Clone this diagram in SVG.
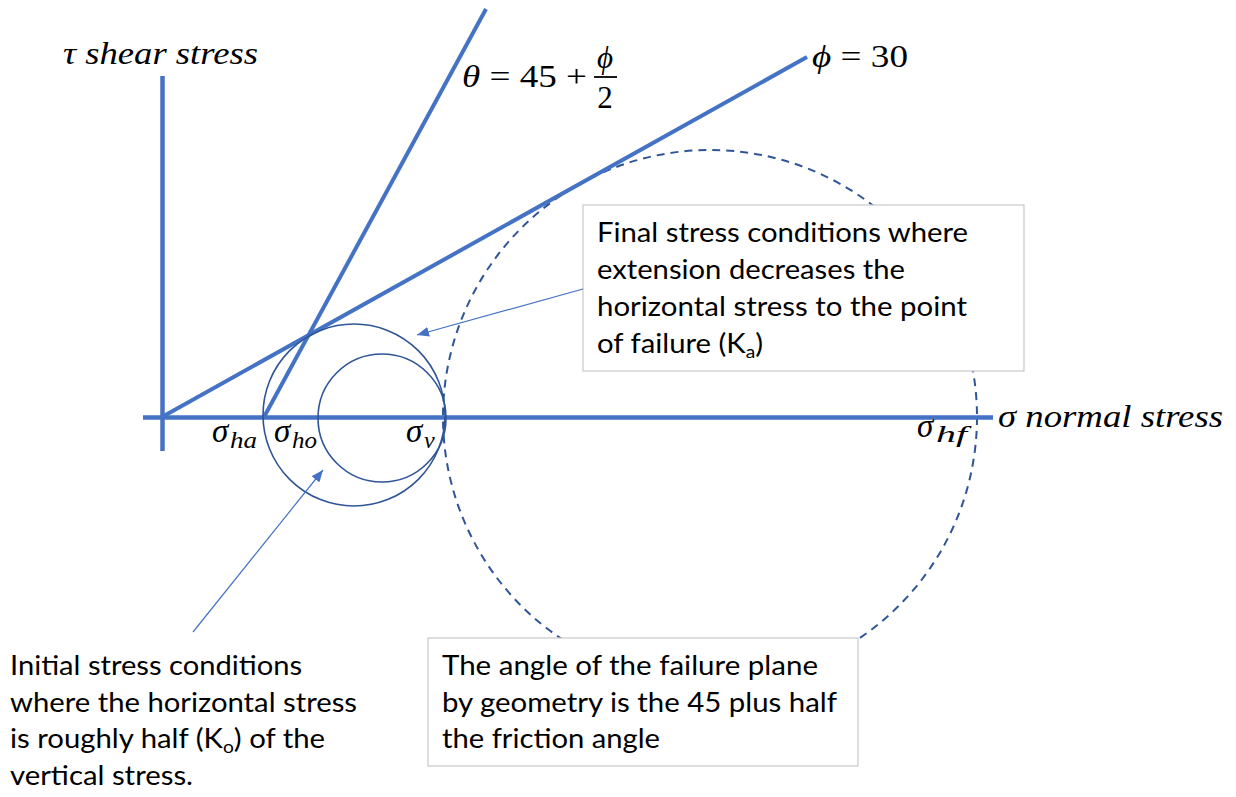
<svg xmlns="http://www.w3.org/2000/svg" width="1236" height="797" viewBox="0 0 1236 797">
<style>
.axis{stroke:#4472C4;stroke-width:4.5;fill:none;stroke-linecap:butt}
.env{stroke:#4472C4;stroke-width:4;fill:none}
.circ{stroke:#2F5597;stroke-width:1.6;fill:none}
.dash{stroke:#2F5597;stroke-width:2;fill:none;stroke-dasharray:8 6}
.box{fill:#ffffff;stroke:#c9c9c9;stroke-width:1.2}
.note{font-family:Lato,"Liberation Sans",sans-serif;font-size:26px;fill:#000}
.math{font-family:"Liberation Serif","DejaVu Serif",serif;font-style:italic;fill:#000}
.up{font-style:normal}
.conn{stroke:#4472C4;stroke-width:1.2;fill:none}
</style>
<defs>
<marker id="ah" viewBox="0 0 12 10" refX="12" refY="5" markerWidth="12" markerHeight="10" markerUnits="userSpaceOnUse" orient="auto">
<path d="M0,0 L12,5 L0,10 z" fill="#4472C4"/>
</marker>
</defs>
<rect width="1236" height="797" fill="#ffffff"/>

<g id="failure-circle">
<circle class="dash" cx="710" cy="417" r="267"/>
</g>

<g id="axes">
<line class="axis" x1="143" y1="417.5" x2="993" y2="417.5"/>
<line class="axis" x1="162.5" y1="76" x2="162.5" y2="451"/>
</g>

<g id="envelope">
<line class="env" x1="162" y1="417" x2="807" y2="57"/>
<line class="env" x1="264" y1="417" x2="486" y2="9"/>
</g>

<g id="final-circle">
<circle class="circ" cx="354" cy="415" r="91"/>
</g>
<g id="initial-circle">
<circle class="circ" cx="382" cy="418" r="64"/>
</g>

<g id="labels">
<text class="math" x="63" y="64" font-size="31" textLength="195" lengthAdjust="spacingAndGlyphs">τ shear stress</text>
<text class="math" x="462" y="87" font-size="32" textLength="125" lengthAdjust="spacingAndGlyphs">θ <tspan class="up">= 45 +</tspan></text>
<text class="math" x="605" y="68" font-size="31" text-anchor="middle">ϕ</text>
<line x1="594" y1="77" x2="617" y2="77" stroke="#000" stroke-width="1.8"/>
<text class="math" x="605" y="108" font-size="31" text-anchor="middle" style="font-style:normal">2</text>
<text class="math" x="812" y="67" font-size="31" textLength="96" lengthAdjust="spacingAndGlyphs">ϕ <tspan class="up">= 30</tspan></text>
<text class="math" x="998" y="427" font-size="31" textLength="225" lengthAdjust="spacingAndGlyphs">σ normal stress</text>
<text class="math" x="212" y="442" font-size="33">σ</text>
<text class="math" x="230" y="448" font-size="24" textLength="27" lengthAdjust="spacingAndGlyphs">ha</text>
<text class="math" x="274" y="442" font-size="33">σ</text>
<text class="math" x="292" y="448" font-size="24" textLength="25" lengthAdjust="spacingAndGlyphs">ho</text>
<text class="math" x="406" y="442" font-size="33">σ</text>
<text class="math" x="424" y="448" font-size="24">v</text>
<text class="math" x="917" y="437" font-size="33">σ</text>
<text class="math" x="936" y="442" font-size="24" textLength="31" lengthAdjust="spacingAndGlyphs">hf</text>
</g>

<g id="note-final">
<rect class="box" x="583" y="205" width="441" height="166"/>
<text class="note" x="597" y="242" textLength="371" lengthAdjust="spacingAndGlyphs">Final stress conditions where</text>
<text class="note" x="597" y="279" textLength="308" lengthAdjust="spacingAndGlyphs">extension decreases the</text>
<text class="note" x="597" y="316" textLength="370" lengthAdjust="spacingAndGlyphs">horizontal stress to the point</text>
<text class="note" x="597" y="353" textLength="166" lengthAdjust="spacingAndGlyphs">of failure (K<tspan font-size="17" dy="5">a</tspan><tspan dy="-5">)</tspan></text>
</g>

<g id="note-angle">
<rect class="box" x="428" y="638" width="430" height="128"/>
<text class="note" x="442" y="675" textLength="376" lengthAdjust="spacingAndGlyphs">The angle of the failure plane</text>
<text class="note" x="442" y="712" textLength="395" lengthAdjust="spacingAndGlyphs">by geometry is the 45 plus half</text>
<text class="note" x="442" y="748" textLength="218" lengthAdjust="spacingAndGlyphs">the friction angle</text>
</g>

<g id="note-initial">
<text class="note" x="10" y="675" textLength="292" lengthAdjust="spacingAndGlyphs">Initial stress conditions</text>
<text class="note" x="10" y="712" textLength="347" lengthAdjust="spacingAndGlyphs">where the horizontal stress</text>
<text class="note" x="10" y="748" textLength="315" lengthAdjust="spacingAndGlyphs">is roughly half (K<tspan font-size="17" dy="5">o</tspan><tspan dy="-5">) of the</tspan></text>
<text class="note" x="10" y="785" textLength="183" lengthAdjust="spacingAndGlyphs">vertical stress.</text>
</g>

<g id="connectors">
<line class="conn" x1="583" y1="289" x2="417" y2="335" marker-end="url(#ah)"/>
<line class="conn" x1="193" y1="632" x2="323" y2="470" marker-end="url(#ah)"/>
</g>
</svg>
